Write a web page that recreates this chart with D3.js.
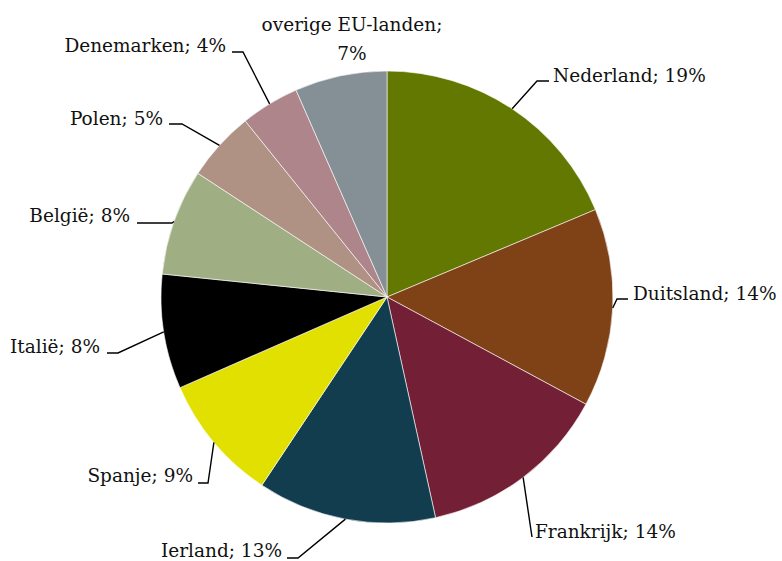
<html>
<head>
<meta charset="utf-8">
<script src="https://d3js.org/d3.v7.min.js"></script>
<style>
  body { margin: 0; background: #fff; }
  text { font-family: "DejaVu Serif", serif; font-size: 18.5px; fill: #111; }
</style>
</head>
<body>
<script>
// data
const countries = ["Nederland", "Duitsland", "Frankrijk", "Ierland", "Spanje", "Italië", "België", "Polen", "Denemarken", "overige EU-landen"];
const shares = [18.7, 14.2, 13.7, 12.8, 9.1, 8.2, 7.6, 5.0, 4.2, 6.6];
const shownPct = ["19%", "14%", "14%", "13%", "9%", "8%", "8%", "5%", "4%", "7%"];
const colors = ["#627800", "#7f4217", "#731f35", "#123d4f", "#e1e000", "#000000", "#a0ae84", "#af9284", "#ad858a", "#858f96"];

// label placement (text anchor, elbow of the leader line)
const labelLayout = [
  { x: 553, y: 82, anchor: "start", elbow: [537, 81], tail: [549, 81] },
  { x: 633, y: 300, anchor: "start", elbow: [617, 299], tail: [628, 299] },
  { x: 535, y: 538, anchor: "start", elbow: [532, 537], tail: [532, 537] },
  { x: 282, y: 557, anchor: "end", elbow: [298, 558], tail: [287, 558] },
  { x: 193, y: 482, anchor: "end", elbow: [208, 483], tail: [198, 483] },
  { x: 100, y: 353, anchor: "end", elbow: [118, 353], tail: [107, 353] },
  { x: 130, y: 222, anchor: "end", elbow: [172, 223], tail: [137, 223] },
  { x: 163, y: 125, anchor: "end", elbow: [182, 124], tail: [169, 124] },
  { x: 226, y: 52, anchor: "end", elbow: [243, 52], tail: [232, 52] },
  { x: 352, y: 31, anchor: "middle", elbow: null, tail: null }
];

const w = 782, h = 561;
const cx = 387, cy = 297, r = 226;

const svg = d3.select("body").append("svg")
  .attr("width", w)
  .attr("height", h);

const pie = d3.pie().sort(null).value(d => d);
const arcs = pie(shares);
const arc = d3.arc().innerRadius(0).outerRadius(r);
const edge = d3.arc().innerRadius(r).outerRadius(r);

const g = svg.append("g").attr("transform", `translate(${cx},${cy})`);

g.selectAll("path")
  .data(arcs)
  .enter()
  .append("path")
  .attr("d", arc)
  .attr("fill", (d, i) => colors[i])
  .attr("stroke", "#fff")
  .attr("stroke-width", 0.6);

// leader lines
arcs.forEach((d, i) => {
  const L = labelLayout[i];
  if (!L.elbow) return;
  const p = edge.centroid(d);
  const pts = [[cx + p[0], cy + p[1]], L.elbow, L.tail];
  svg.append("path")
    .attr("d", d3.line()(pts))
    .attr("fill", "none")
    .attr("stroke", "#000")
    .attr("stroke-width", 1.4);
});

// labels
countries.forEach((c, i) => {
  const L = labelLayout[i];
  const t = svg.append("text")
    .attr("x", L.x)
    .attr("y", L.y)
    .attr("text-anchor", L.anchor);
  if (L.anchor === "middle") {
    t.append("tspan").attr("x", L.x).text(c + ";");
    t.append("tspan").attr("x", L.x).attr("dy", 29).text(shownPct[i]);
  } else {
    t.text(c + "; " + shownPct[i]);
  }
});
</script>
</body>
</html>
